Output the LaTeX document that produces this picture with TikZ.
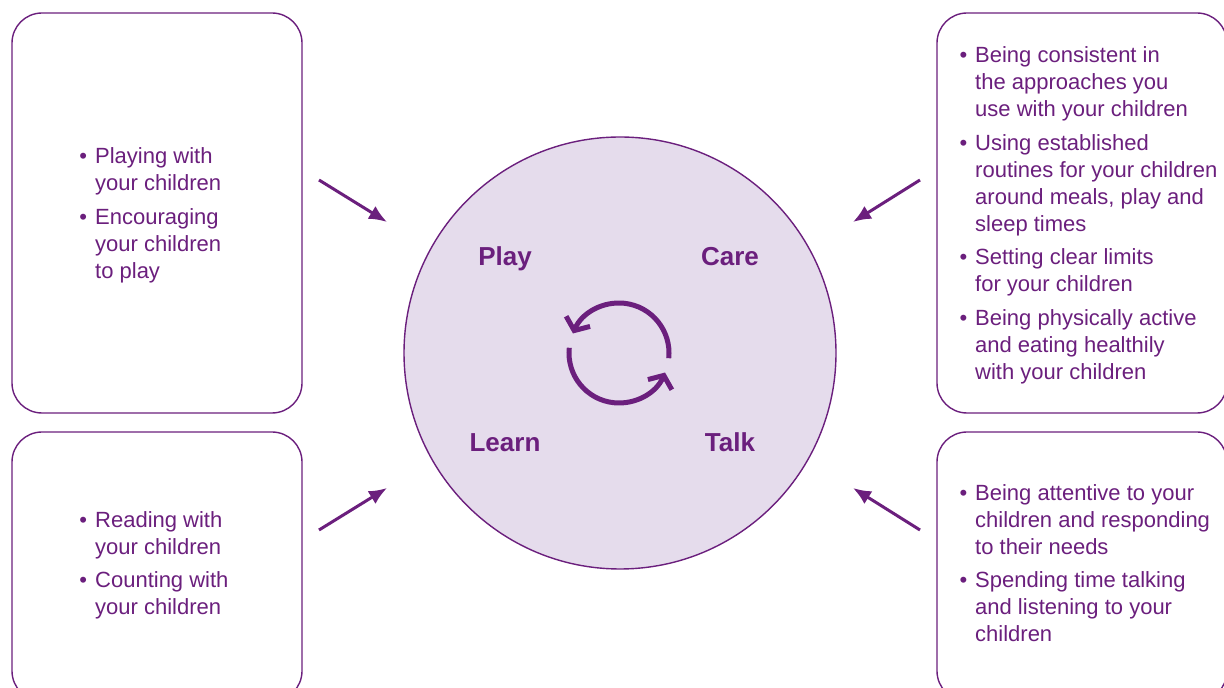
\documentclass[tikz,border=0pt]{standalone}
\usepackage{fontspec}
\setmainfont{Liberation Sans}
\usetikzlibrary{arrows.meta}
\definecolor{purp}{HTML}{6B1F7D}
\definecolor{lilac}{HTML}{E5DCEC}
\tikzset{
  boxstyle/.style={draw=purp, line width=1.4pt, rounded corners=30pt, fill=white},
  itemtext/.style={text=purp, font=\fontsize{22}{26.7}\selectfont, align=left, anchor=base west, inner sep=0pt},
  labeltext/.style={text=purp, font=\fontsize{26}{30}\selectfont\bfseries, anchor=base, inner sep=0pt},
  bigarrow/.style={draw=purp, line width=3pt, -{Latex[length=18pt,width=15pt]}},
  cyclearrow/.style={draw=purp, line width=5pt, -{Straight Barb[length=10pt,width=26pt,line width=5pt]}}
}
\newcommand{\bul}{\llap{\textbullet\hspace{8pt}}}
\begin{document}
\begin{tikzpicture}[x=1pt,y=1pt]
\useasboundingbox (0,0) rectangle (1224,688);
\clip (0,0) rectangle (1224,688);
% boxes
\draw[boxstyle] (12,275) rectangle (302,675);
\draw[boxstyle] (12,-13) rectangle (302,256);
\draw[boxstyle] (937,275) rectangle (1227,675);
\draw[boxstyle] (937,-13) rectangle (1227,256);
\node[inner sep=0pt, minimum width=290pt, minimum height=400pt] (tl) at (157,475) {};
\node[inner sep=0pt, minimum width=290pt, minimum height=269pt] (bl) at (157,121.5) {};
\node[inner sep=0pt, minimum width=290pt, minimum height=400pt] (tr) at (1082,475) {};
\node[inner sep=0pt, minimum width=290pt, minimum height=269pt] (br) at (1082,121.5) {};
% circle
\node[circle, draw=purp, fill=lilac, line width=1.4pt, minimum size=432pt, inner sep=0pt] (c) at (620,335) {};
% labels
\node[labeltext] (play) at (505,422) {Play};
\node[labeltext] (care) at (730,422) {Care};
\node[labeltext] (learn) at (505,236) {Learn};
\node[labeltext] (talk) at (730,236) {Talk};
% cycle
\coordinate (cyc) at (619,335);
\draw[cyclearrow] ([shift={(-6:50)}]cyc) arc[start angle=-6, end angle=157, radius=50];
\draw[cyclearrow] ([shift={(174:50)}]cyc) arc[start angle=174, end angle=337, radius=50];
% arrows
\coordinate (a1s) at (319,508); \coordinate (a1e) at (387,466);
\coordinate (a2s) at (319,158); \coordinate (a2e) at (387,200);
\coordinate (a3s) at (920,508); \coordinate (a3e) at (853,466);
\coordinate (a4s) at (920,158); \coordinate (a4e) at (853,200);
\draw[bigarrow] (a1s) -- (a1e);
\draw[bigarrow] (a2s) -- (a2e);
\draw[bigarrow] (a3s) -- (a3e);
\draw[bigarrow] (a4s) -- (a4e);
% texts (anchor = baseline of last line)
\node[itemtext] (tl1) at (95,497.3) {\bul Playing with\\your children};
\node[itemtext] (tl2) at (95,409.6) {\bul Encouraging\\your children\\to play};
\node[itemtext] (bl1) at (95,133.3) {\bul Reading with\\your children};
\node[itemtext] (bl2) at (95,73.3) {\bul Counting with\\your children};
\node[itemtext] (tr1) at (975,571.6) {\bul Being consistent in\\the approaches you\\use with your children};
\node[itemtext] (tr2) at (975,456.9) {\bul Using established\\routines for your children\\around meals, play and\\sleep times};
\node[itemtext] (tr3) at (975,396.3) {\bul Setting clear limits\\for your children};
\node[itemtext] (tr4) at (975,308.6) {\bul Being physically active\\and eating healthily\\with your children};
\node[itemtext] (br1) at (975,133.6) {\bul Being attentive to your\\children and responding\\to their needs};
\node[itemtext] (br2) at (975,46.6) {\bul Spending time talking\\and listening to your\\children};
\end{tikzpicture}
\end{document}
